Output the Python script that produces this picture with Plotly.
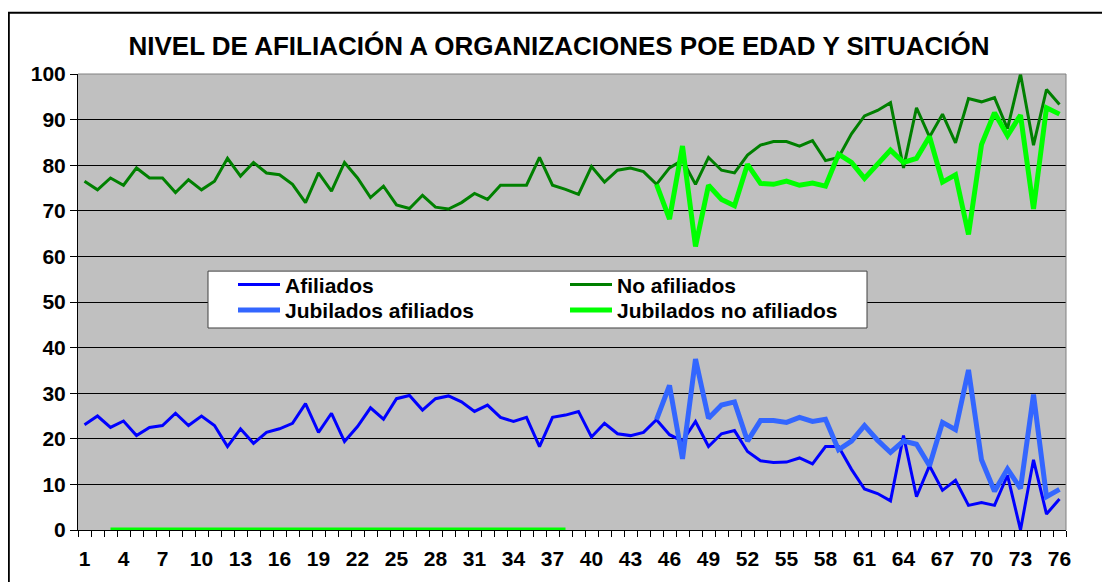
import plotly.graph_objects as go

edades = list(range(1, 77))
tick_edades = list(range(1, 77, 3))
tick_text = [str(v) for v in tick_edades]

afiliados = [23.1, 25.0, 22.5, 23.9, 20.7, 22.5, 22.9, 25.6, 22.9, 25.0,
             22.9, 18.3, 22.2, 19.0, 21.4, 22.2, 23.4, 27.7, 21.4, 25.6,
             19.4, 22.7, 26.8, 24.3, 28.8, 29.5, 26.3, 28.8, 29.4, 28.1,
             26.0, 27.4, 24.7, 23.8, 24.7, 18.3, 24.7, 25.2, 26.0, 20.4,
             23.4, 21.1, 20.7, 21.4, 24.2, 20.9, 19.5, 23.8, 18.3, 21.1,
             21.8, 17.2, 15.2, 14.8, 14.9, 15.8, 14.5, 18.3, 18.3, 13.3,
             9.0, 8.0, 6.4, 20.7, 7.3, 14.1, 8.7, 10.9, 5.4, 6.0,
             5.4, 12.0, 0.0, 15.4, 3.5, 6.8]

no_afiliados = [76.5, 74.6, 77.2, 75.6, 79.4, 77.2, 77.2, 74.0, 76.8, 74.6,
                76.5, 81.5, 77.6, 80.6, 78.3, 77.9, 75.8, 71.8, 78.3, 74.3,
                80.6, 77.2, 72.9, 75.4, 71.3, 70.5, 73.4, 70.8, 70.4, 71.8,
                73.8, 72.5, 75.6, 75.6, 75.6, 81.7, 75.6, 74.7, 73.6, 79.7,
                76.3, 78.9, 79.4, 78.6, 75.8, 79.4, 81.1, 75.8, 81.7, 78.9,
                78.3, 82.2, 84.4, 85.2, 85.2, 84.2, 85.4, 81.0, 81.7, 86.9,
                90.8, 92.0, 93.7, 79.4, 92.6, 86.2, 91.2, 84.9, 94.6, 93.9,
                94.8, 88.0, 100.0, 84.4, 96.6, 93.3]

jubilados_afiliados = [None] * 44 + [
    24.2, 31.7, 15.6, 37.5, 24.5, 27.4, 28.1, 19.5, 24.0, 24.0,
    23.6, 24.7, 23.8, 24.3, 17.6, 19.5, 22.9, 19.7, 17.0, 19.5,
    18.8, 14.1, 23.6, 22.0, 35.1, 15.4, 8.5, 13.4, 9.1, 29.7,
    7.3, 8.9]

jubilados_no_afiliados = [None, None] + [0.0] * 36 + [None] * 6 + [
    75.8, 68.2, 84.2, 62.2, 75.6, 72.5, 71.1, 80.2, 76.0, 75.8,
    76.5, 75.6, 76.1, 75.4, 82.4, 80.6, 77.1, 80.2, 83.3, 80.6,
    81.5, 86.3, 76.3, 77.9, 64.8, 84.5, 91.5, 86.5, 91.0, 70.4,
    92.6, 91.2]

FONT = "Liberation Sans, Arial, sans-serif"

# page body adds an 8px offset; figure sized to fill the rest of the window
OFF = 8
W, H = 1110 - OFF, 582 - OFF
L, T = 78 - OFF, 74 - OFF
R = W - (1066 - OFF)
B = H - (539 - OFF)
pw, ph = W - L - R, H - T - B


def px_x(p):
    return (p - OFF - L) / pw


def px_y(p):
    return (H - B - (p - OFF)) / ph


fig = go.Figure()
fig.add_trace(go.Scatter(x=edades, y=afiliados, name="Afiliados", mode="lines",
                         line=dict(color="#0000FF", width=3), legend="legend"))
fig.add_trace(go.Scatter(x=edades, y=no_afiliados, name="No afiliados", mode="lines",
                         line=dict(color="#008000", width=3), legend="legend"))
fig.add_trace(go.Scatter(x=edades, y=jubilados_afiliados, name="Jubilados afiliados",
                         mode="lines", line=dict(color="#3366FF", width=5), legend="legend2"))
fig.add_trace(go.Scatter(x=edades, y=jubilados_no_afiliados, name="Jubilados no afiliados",
                         mode="lines", line=dict(color="#00FF00", width=5), legend="legend2"))

legend_font = dict(family=FONT, size=21, color="black", weight="bold")
legend_common = dict(orientation="h", xanchor="left", yanchor="middle",
                     bgcolor="rgba(0,0,0,0)", borderwidth=0,
                     entrywidth=275, itemwidth=42, tracegroupgap=0, font=legend_font)

fig.update_layout(
    width=W, height=H,
    margin=dict(l=L, r=R, t=T, b=B),
    paper_bgcolor="white",
    plot_bgcolor="#C0C0C0",
    font=dict(family=FONT, size=21, color="black"),
    title=dict(text="NIVEL DE AFILIACIÓN A ORGANIZACIONES POE EDAD Y SITUACIÓN",
               x=0.5, xref="container", xanchor="center",
               y=1 - (46 - OFF) / H, yref="container", yanchor="middle",
               font=dict(family=FONT, size=26, color="black", weight="bold")),
    legend=dict(x=px_x(233), y=px_y(289), **legend_common),
    legend2=dict(x=px_x(233), y=px_y(315), **legend_common),
    xaxis=dict(range=[0.5, 76.5], tickmode="array", tickvals=tick_edades, ticktext=tick_text,
               ticks="", showgrid=False, zeroline=False, ticklabelstandoff=10,
               showline=True, linecolor="black", linewidth=1,
               tickfont=dict(family=FONT, size=21, color="black", weight="bold"),
               minor=dict(ticks="outside", ticklen=6, tickcolor="black", tickwidth=1,
                          tick0=0.5, dtick=1, showgrid=False)),
    yaxis=dict(range=[0, 100], tickmode="linear", tick0=0, dtick=10,
               ticks="outside", ticklen=7, tickcolor="black",
               showgrid=True, gridcolor="black", gridwidth=1, zeroline=False,
               showline=True, linecolor="black", linewidth=1,
               tickfont=dict(family=FONT, size=21, color="black", weight="bold")),
    shapes=[
        dict(type="line", xref="paper", yref="paper", x0=0, x1=1, y0=1, y1=1,
             line=dict(color="#808080", width=1), layer="above"),
        dict(type="line", xref="paper", yref="paper", x0=1, x1=1, y0=0, y1=1,
             line=dict(color="#808080", width=1), layer="above"),
        dict(type="rect", xref="paper", yref="paper",
             x0=px_x(208), x1=px_x(867), y0=px_y(333), y1=px_y(275),
             line=dict(color="#404040", width=1), fillcolor="white", layer="above"),
        dict(type="rect", xref="paper", yref="paper",
             x0=px_x(8.8), x1=px_x(1140), y0=px_y(640), y1=px_y(11.5),
             line=dict(color="black", width=2), fillcolor="rgba(0,0,0,0)", layer="above"),
    ],
)

fig.write_html("out.html")
